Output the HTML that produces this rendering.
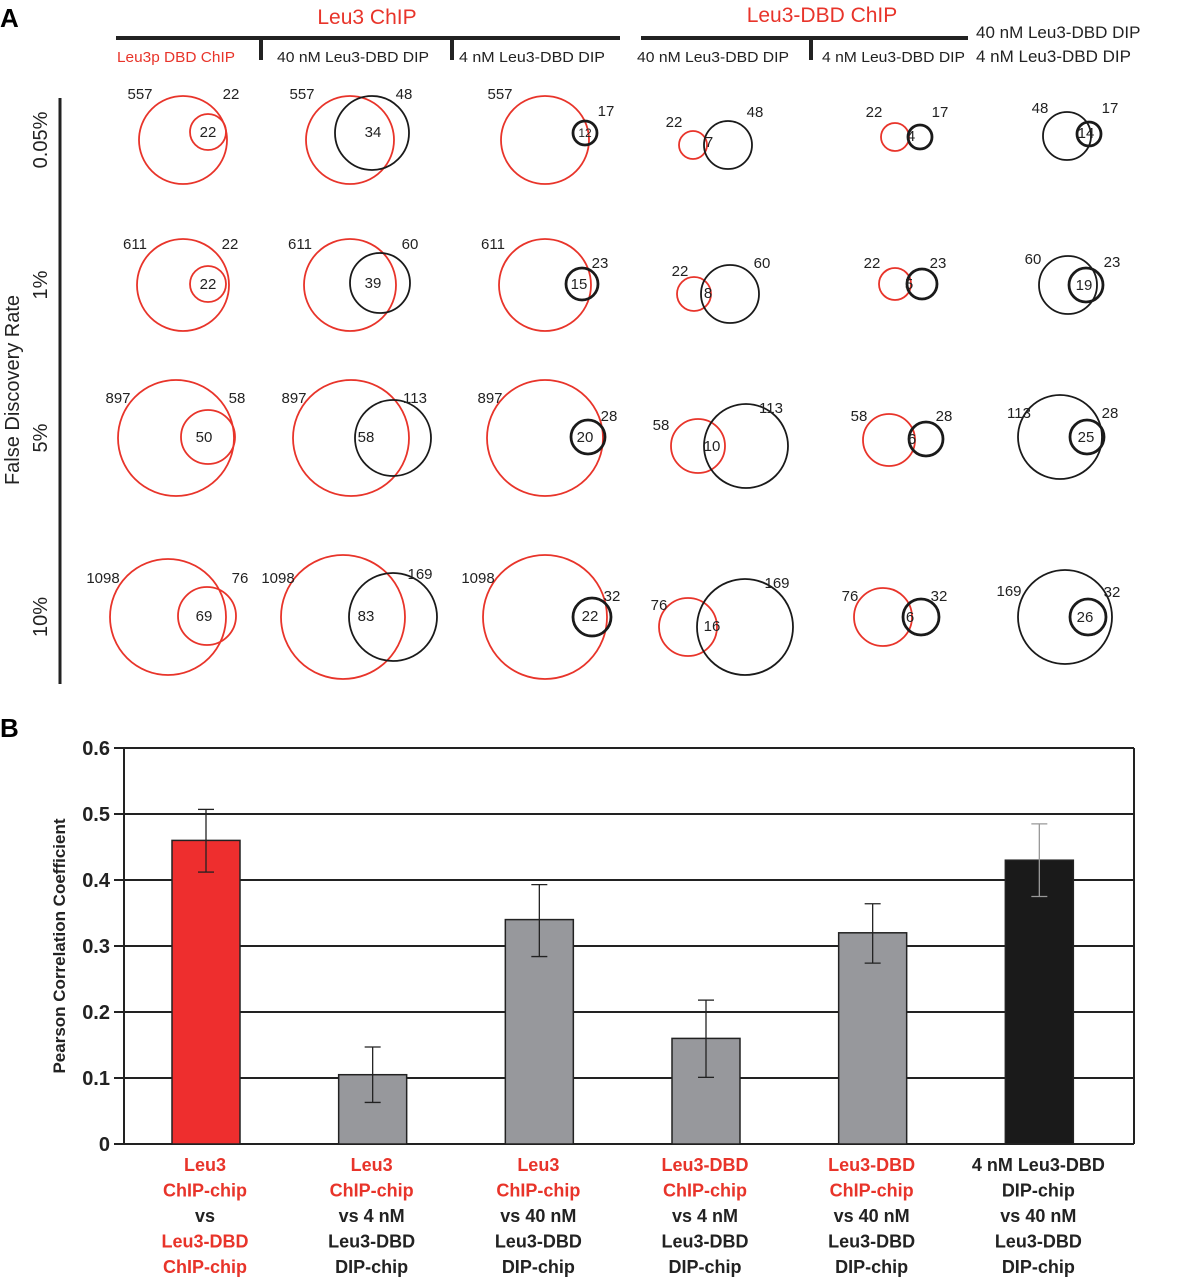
<!DOCTYPE html>
<html><head><meta charset="utf-8"><style>
html,body{margin:0;padding:0;background:#fff;}
svg{display:block;font-family:"Liberation Sans",Arial,sans-serif;}
</style></head><body>
<svg id="fig" width="1177" height="1280" viewBox="0 0 1177 1280">
<text x="0" y="27" font-size="26" font-weight="bold">A</text>
<text x="367" y="24" font-size="21" fill="#e8342a" text-anchor="middle">Leu3 ChIP</text>
<line x1="116" y1="38" x2="620" y2="38" stroke="#222" stroke-width="4"/>
<line x1="261" y1="38" x2="261" y2="60" stroke="#222" stroke-width="4"/>
<line x1="452" y1="38" x2="452" y2="60" stroke="#222" stroke-width="4"/>
<text x="822" y="22" font-size="21" fill="#e8342a" text-anchor="middle">Leu3-DBD ChIP</text>
<line x1="641" y1="38" x2="968" y2="38" stroke="#222" stroke-width="4"/>
<line x1="811" y1="38" x2="811" y2="60" stroke="#222" stroke-width="4"/>
<g font-size="15">
<text x="117" y="62" fill="#e8342a" textLength="118" lengthAdjust="spacingAndGlyphs">Leu3p DBD ChIP</text>
<text x="277" y="62" fill="#222" textLength="152" lengthAdjust="spacingAndGlyphs">40 nM Leu3-DBD DIP</text>
<text x="459" y="62" fill="#222" textLength="146" lengthAdjust="spacingAndGlyphs">4 nM Leu3-DBD DIP</text>
<text x="637" y="62" fill="#222" textLength="152" lengthAdjust="spacingAndGlyphs">40 nM Leu3-DBD DIP</text>
<text x="822" y="62" fill="#222" textLength="143" lengthAdjust="spacingAndGlyphs">4 nM Leu3-DBD DIP</text>
<text x="976" y="38" fill="#222" font-size="17">40 nM Leu3-DBD DIP</text>
<text x="976" y="62" fill="#222" font-size="17">4 nM Leu3-DBD DIP</text>
</g>
<text transform="translate(19,390) rotate(-90)" font-size="20" text-anchor="middle" fill="#222">False Discovery Rate</text>
<line x1="60" y1="98" x2="60" y2="684" stroke="#222" stroke-width="3"/>
<g id="venns"></g>
<text x="0" y="737" font-size="26" font-weight="bold">B</text>
<g id="bars"></g>
</svg>
<script>
// ---------- Venn data (panel A) ----------
const fdrLabels = ["0.05%","1%","5%","10%"];
const fdrRowY = [140,285,438,617];
const venns = [
 {a:[183,140,44,'r'],b:[208,132,18,'r'],la:["557",140,99],lb:["22",231,99],n:["22",208,137]},
 {a:[350,140,44,'r'],b:[372,133,37,'k'],la:["557",302,99],lb:["48",404,99],n:["34",373,137]},
 {a:[545,140,44,'r'],b:[585,133,12,'k2'],la:["557",500,99],lb:["17",606,116],n:["12",585,137,12]},
 {a:[693,145,14,'r'],b:[728,145,24,'k'],la:["22",674,127],lb:["48",755,117],n:["7",709,147]},
 {a:[895,137,14,'r'],b:[920,137,12,'k2'],la:["22",874,117],lb:["17",940,117],n:["4",911,141]},
 {a:[1067,136,24,'k'],b:[1089,134,12,'k2'],la:["48",1040,113],lb:["17",1110,113],n:["14",1086,138]},
 {a:[183,285,46,'r'],b:[208,284,18,'r'],la:["611",135,249],lb:["22",230,249],n:["22",208,289]},
 {a:[350,285,46,'r'],b:[380,283,30,'k'],la:["611",300,249],lb:["60",410,249],n:["39",373,288]},
 {a:[545,285,46,'r'],b:[582,284,16,'k2'],la:["611",493,249],lb:["23",600,268],n:["15",579,289]},
 {a:[694,294,17,'r'],b:[730,294,29,'k'],la:["22",680,276],lb:["60",762,268],n:["8",708,298]},
 {a:[895,284,16,'r'],b:[922,284,15,'k2'],la:["22",872,268],lb:["23",938,268],n:["5",909,289]},
 {a:[1068,285,29,'k'],b:[1086,285,17,'k2'],la:["60",1033,264],lb:["23",1112,267],n:["19",1084,290]},
 {a:[176,438,58,'r'],b:[208,437,27,'r'],la:["897",118,403],lb:["58",237,403],n:["50",204,442]},
 {a:[351,438,58,'r'],b:[393,438,38,'k'],la:["897",294,403],lb:["113",415,403],n:["58",366,442]},
 {a:[545,438,58,'r'],b:[588,437,17,'k2'],la:["897",490,403],lb:["28",609,421],n:["20",585,442]},
 {a:[698,446,27,'r'],b:[746,446,42,'k'],la:["58",661,430],lb:["113",771,413],n:["10",712,451]},
 {a:[889,440,26,'r'],b:[926,439,17,'k2'],la:["58",859,421],lb:["28",944,421],n:["6",912,444]},
 {a:[1060,437,42,'k'],b:[1087,437,17,'k2'],la:["113",1019,418],lb:["28",1110,418],n:["25",1086,442]},
 {a:[168,617,58,'r'],b:[207,616,29,'r'],la:["1098",103,583],lb:["76",240,583],n:["69",204,621]},
 {a:[343,617,62,'r'],b:[393,617,44,'k'],la:["1098",278,583],lb:["169",420,579],n:["83",366,621]},
 {a:[545,617,62,'r'],b:[592,617,19,'k2'],la:["1098",478,583],lb:["32",612,601],n:["22",590,621]},
 {a:[688,627,29,'r'],b:[745,627,48,'k'],la:["76",659,610],lb:["169",777,588],n:["16",712,631]},
 {a:[883,617,29,'r'],b:[921,617,18,'k2'],la:["76",850,601],lb:["32",939,601],n:["6",910,622]},
 {a:[1065,617,47,'k'],b:[1088,617,18,'k2'],la:["169",1009,596],lb:["32",1112,597],n:["26",1085,622]}
];
const NS='http://www.w3.org/2000/svg';
const vg=document.getElementById('venns');
fdrLabels.forEach((l,i)=>{
  const t=document.createElementNS(NS,'text');
  
  
  t.setAttribute('transform',`translate(47,${fdrRowY[i]}) rotate(-90)`);
  t.setAttribute('font-size','20');t.setAttribute('text-anchor','middle');t.setAttribute('fill','#222');
  t.textContent=l;vg.appendChild(t);
});
function circ(c){
  const e=document.createElementNS(NS,'circle');
  
  
  e.setAttribute('cx',c[0]);e.setAttribute('cy',c[1]);e.setAttribute('r',c[2]);
  e.setAttribute('fill','none');
  e.setAttribute('stroke',c[3]==='r'?'#e8342a':'#1a1a1a');
  e.setAttribute('stroke-width',c[3]==='k2'?2.8:1.8);
  vg.appendChild(e);
}
function txt(d,sz){
  const t=document.createElementNS(NS,'text');
  
  
  t.setAttribute('x',d[1]);t.setAttribute('y',d[2]);
  t.setAttribute('font-size',d[3]||sz);t.setAttribute('text-anchor','middle');t.setAttribute('fill','#222');
  t.textContent=d[0];vg.appendChild(t);
}
venns.forEach(v=>{circ(v.a);circ(v.b);txt(v.la,15);txt(v.lb,15);txt(v.n,15);});

// ---------- Bar chart data (panel B) ----------
const categories = [
 [["Leu3","r"],["ChIP-chip","r"],["vs","k"],["Leu3-DBD","r"],["ChIP-chip","r"]],
 [["Leu3","r"],["ChIP-chip","r"],["vs 4 nM","k"],["Leu3-DBD","k"],["DIP-chip","k"]],
 [["Leu3","r"],["ChIP-chip","r"],["vs 40 nM","k"],["Leu3-DBD","k"],["DIP-chip","k"]],
 [["Leu3-DBD","r"],["ChIP-chip","r"],["vs 4 nM","k"],["Leu3-DBD","k"],["DIP-chip","k"]],
 [["Leu3-DBD","r"],["ChIP-chip","r"],["vs 40 nM","k"],["Leu3-DBD","k"],["DIP-chip","k"]],
 [["4 nM Leu3-DBD","k"],["DIP-chip","k"],["vs 40 nM","k"],["Leu3-DBD","k"],["DIP-chip","k"]]
];
const values = [0.46,0.105,0.34,0.16,0.32,0.43];
const errHigh = [0.507,0.147,0.393,0.218,0.364,0.485];
const errLow = [0.412,0.063,0.284,0.101,0.274,0.375];
const barColors = ["#ee2e2e","#97989c","#97989c","#97989c","#97989c","#1a1a1a"];
const yTicks = [0,0.1,0.2,0.3,0.4,0.5,0.6];
const tickLabels = ["0","0.1","0.2","0.3","0.4","0.5","0.6"];

const X0=124,X1=1134,Y0=1144,Y1=748,YMAX=0.6;
const y=v=>Y0-(v/YMAX)*(Y0-Y1);
const slot=(X1-X0)/6.06;
const xc=i=>206+i*slot;
const BW=68;
const bg=document.getElementById('bars');
function add(tag,attrs,name,text){
  const e=document.createElementNS(NS,tag);
  
  
  for(const k in attrs)e.setAttribute(k,attrs[k]);
  if(text!==undefined)e.textContent=text;
  bg.appendChild(e);return e;
}
yTicks.forEach((t,i)=>{
  add('line',{x1:X0-10,x2:X1,y1:y(t),y2:y(t),stroke:'#222','stroke-width':2},'gridline');
  add('text',{x:X0-14,y:y(t)+7,'font-size':20,'font-weight':'bold','text-anchor':'end',fill:'#222'},'y-tick-label',tickLabels[i]);
});
add('line',{x1:X0,x2:X0,y1:Y1,y2:Y0,stroke:'#222','stroke-width':2},'y-axis-line');
add('line',{x1:X1,x2:X1,y1:Y1,y2:Y0,stroke:'#222','stroke-width':2},'right-border');
add('text',{transform:`translate(65,${(Y0+Y1)/2}) rotate(-90)`,'font-size':17,'font-weight':'bold','text-anchor':'middle',fill:'#222'},'y-axis-title','Pearson Correlation Coefficient');
values.forEach((v,i)=>{
  add('rect',{x:xc(i)-BW/2,y:y(v),width:BW,height:Y0-y(v),fill:barColors[i],stroke:'#222','stroke-width':1.5},'bar-'+(i+1));
  const ec=i===5?'#999':'#222';
  add('line',{x1:xc(i),x2:xc(i),y1:y(errHigh[i]),y2:y(errLow[i]),stroke:ec,'stroke-width':1.3},'error-bar');
  add('line',{x1:xc(i)-8,x2:xc(i)+8,y1:y(errHigh[i]),y2:y(errHigh[i]),stroke:ec,'stroke-width':1.3},'error-cap');
  add('line',{x1:xc(i)-8,x2:xc(i)+8,y1:y(errLow[i]),y2:y(errLow[i]),stroke:ec,'stroke-width':1.3},'error-cap');
  categories[i].forEach((ln,j)=>{
    add('text',{x:xc(i)-1,y:1171+j*25.5,'font-size':18,'font-weight':'bold','text-anchor':'middle',fill:ln[1]==='r'?'#e8342a':'#222'},'x-category-label',ln[0]);
  });
});
</script>
</body></html>
